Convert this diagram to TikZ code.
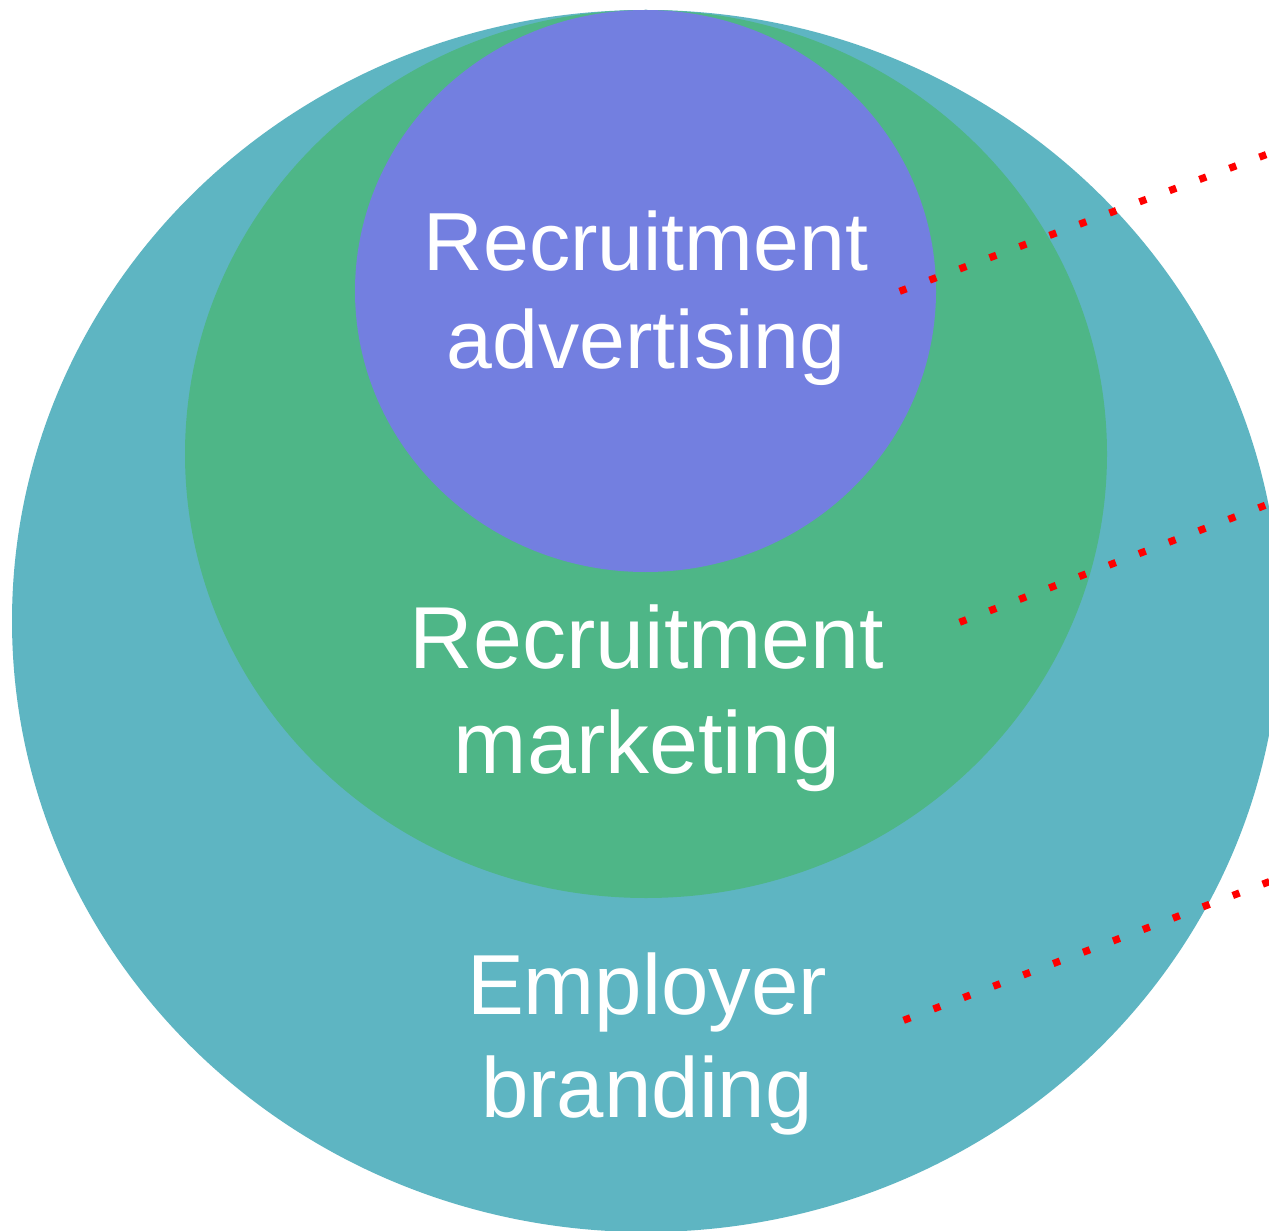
\documentclass[tikz,border=0pt]{standalone}
\usepackage{fontspec}
\setmainfont{Liberation Sans}
\usetikzlibrary{shapes.geometric}
\definecolor{outerc}{RGB}{94,181,194}
\definecolor{midc}{RGB}{78,182,135}
\definecolor{innerc}{RGB}{115,127,224}
\tikzset{
  blob/.style={ellipse, inner sep=0pt, draw=none},
  lbl/.style={text=white, inner sep=0pt, anchor=base},
  pointer/.style={draw=red, line width=5.4pt, dash pattern=on 5.4pt off 18.6pt},
}
\begin{document}
\begin{tikzpicture}[x=0.75pt,y=-0.75pt]
\useasboundingbox (0,0) rectangle (1269,1230);
\clip (0,0) rectangle (1269,1230);
\fill[white] (0,0) rectangle (1269,1230);
\node[blob, fill=outerc, minimum width=951pt, minimum height=916.5pt] (outer) at (646,621) {};
\node[blob, fill=midc, minimum width=691.5pt, minimum height=666pt] (mid) at (646,454) {};
\node[blob, fill=innerc, minimum width=435.75pt, minimum height=421.5pt] (inner) at (645.5,291) {};
% labels
\node[lbl, font=\fontsize{61.8pt}{72pt}\selectfont] (adv1) at (646,271) {Recruitment};
\node[lbl, font=\fontsize{61.8pt}{72pt}\selectfont] (adv2) at (646,368) {advertising};
\node[lbl, font=\fontsize{66pt}{78pt}\selectfont] (mkt1) at (647,668) {Recruitment};
\node[lbl, font=\fontsize{66pt}{78pt}\selectfont] (mkt2) at (647,773) {marketing};
\node[lbl, font=\fontsize{63.9pt}{77pt}\selectfont] (emp1) at (647,1014) {Employer};
\node[lbl, font=\fontsize{63.9pt}{77pt}\selectfont] (emp2) at (647,1117) {branding};
% pointers
\coordinate (p1s) at (899.6,291.3);
\coordinate (p1e) at (1300,142);
\coordinate (p2s) at (959.6,622.3);
\coordinate (p2e) at (1300,492);
\coordinate (p3s) at (903.6,1020.3);
\coordinate (p3e) at (1300,870);
\draw[pointer] (p1s) -- (p1e);
\draw[pointer] (p2s) -- (p2e);
\draw[pointer] (p3s) -- (p3e);
\end{tikzpicture}
\end{document}
